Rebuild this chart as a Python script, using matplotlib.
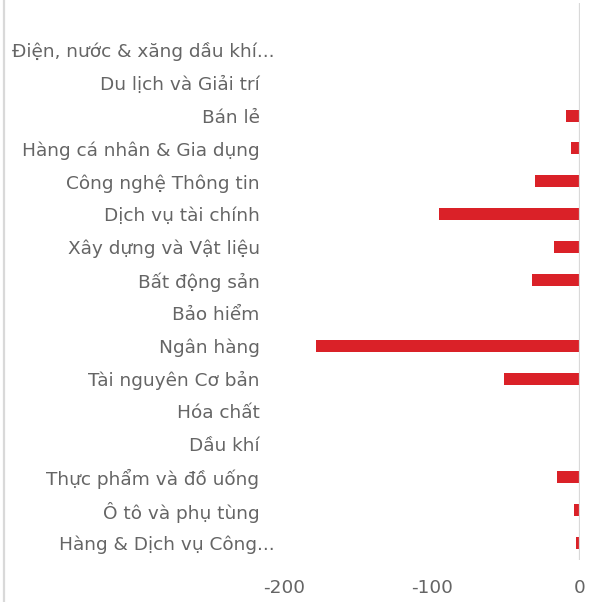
import matplotlib
matplotlib.use("Agg")
import matplotlib.pyplot as plt
from matplotlib.lines import Line2D
from matplotlib.transforms import ScaledTranslation

categories = [
    "Điện, nước & xăng dầu khí...",
    "Du lịch và Giải trí",
    "Bán lẻ",
    "Hàng cá nhân & Gia dụng",
    "Công nghệ Thông tin",
    "Dịch vụ tài chính",
    "Xây dựng và Vật liệu",
    "Bất động sản",
    "Bảo hiểm",
    "Ngân hàng",
    "Tài nguyên Cơ bản",
    "Hóa chất",
    "Dầu khí",
    "Thực phẩm và đồ uống",
    "Ô tô và phụ tùng",
    "Hàng & Dịch vụ Công...",
]
values = [0, -0.4, -9.2, -5.8, -30.0, -95.0, -17.0, -32.0, 0, -178.6,
          -51.2, 0.8, 0, -15.3, -3.7, -2.4]
xticks = [-200, -100, 0]

RED = "#DA2128"
GREEN = "#00A651"
GREY_TXT = "#656565"
GREY_LN = "#D9D9D9"

plt.rcParams["font.family"] = ["DejaVu Sans"]

fig = plt.figure(figsize=(5.91, 6.02), dpi=100)
ax = fig.add_axes([284.5 / 591, 42 / 602, 295 / 591, 557 / 602])

ypos = list(range(len(categories)))
colors = [GREEN if v > 0 else RED for v in values]
ax.barh(ypos, values, height=0.365, color=colors, zorder=2)

ax.set_xlim(-200, 0)
ax.set_ylim(15.52, 15.52 - 557 / 32.87)
ax.axvline(0, color=GREY_LN, lw=1.6, zorder=3)

ax.set_yticks(ypos)
ax.set_yticklabels(categories, fontsize=13.3, color=GREY_TXT)
ax.set_xticks(xticks)
ax.set_xticklabels([str(t) for t in xticks], fontsize=13.3, color=GREY_TXT)
ax.tick_params(axis="both", length=0)
ax.tick_params(axis="y", pad=18)
ax.tick_params(axis="x", pad=14)
for s in ax.spines.values():
    s.set_visible(False)

# truncated labels stick out a little further right
for lab in ax.get_yticklabels():
    if lab.get_text().endswith("..."):
        lab.set_transform(lab.get_transform() + ScaledTranslation(0.15, 0, fig.dpi_scale_trans))

# chart border on the left
fig.add_artist(Line2D([4 / 591, 4 / 591], [0, 1], color=GREY_LN, lw=1.6))

fig.savefig("out.png", dpi=100)
